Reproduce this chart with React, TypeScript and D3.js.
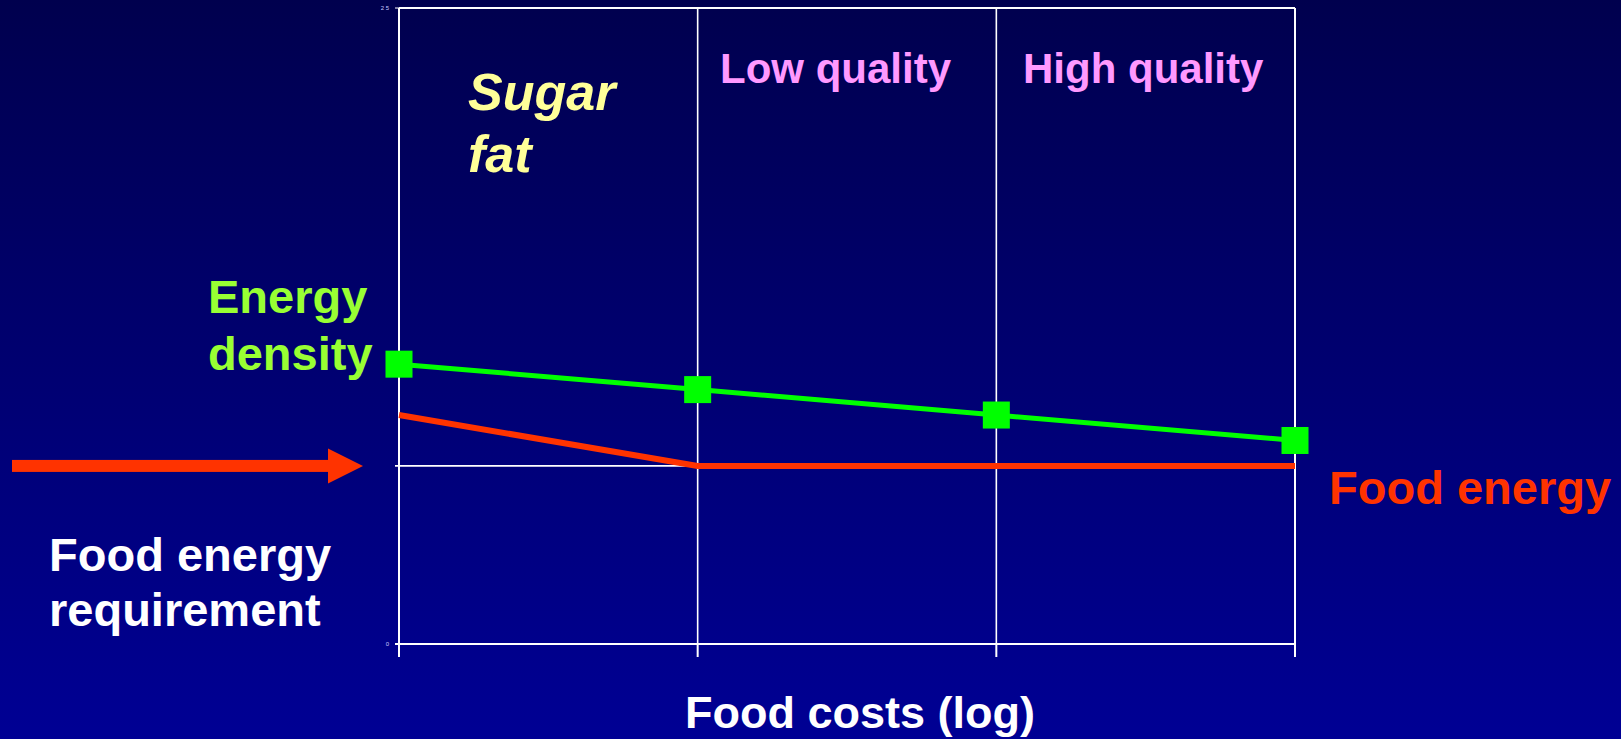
import React from "react";
import * as d3 from "d3";

const categories = ["c1", "c2", "c3", "c4"];
const energyDensity = [11, 10, 9, 8];
const foodEnergy = [9, 7, 7, 7];
const requirementLevel = 7;
const yTicks = [0, 25];
const bandLabels = [
  { text: "Low quality", x: 720 },
  { text: "High quality", x: 1023 },
];

const W = 1621;
const H = 739;
const FONT = "'Liberation Sans', Arial, Helvetica, sans-serif";

export default function App() {
  const x = d3.scalePoint<string>().domain(categories).range([399, 1295]);
  const y = d3.scaleLinear().domain([0, 25]).range([644, 8]);

  const lineGen = d3
    .line<number>()
    .x((_, i) => x(categories[i]) as number)
    .y((d) => y(d));

  const x0 = x(categories[0]) as number;
  const x3 = x(categories[categories.length - 1]) as number;
  const reqY = y(requirementLevel);
  const marker = 27;

  return (
    <svg
      width={W}
      height={H}
      style={{ position: "absolute", left: 0, top: 0, display: "block" }}
      fontFamily={FONT}
    >
      <defs>
        <linearGradient id="bg" x1="0" y1="0" x2="0" y2="1">
          <stop offset="0" stopColor="#00004e" />
          <stop offset="1" stopColor="#000094" />
        </linearGradient>
      </defs>
      <rect x={0} y={0} width={W} height={H} fill="url(#bg)" />

      {/* vertical gridlines */}
      {categories.slice(1, -1).map((c) => (
        <line key={c} x1={x(c)} x2={x(c)} y1={y(25)} y2={y(0)} stroke="#fff" strokeWidth={1.6} />
      ))}
      {/* horizontal requirement gridline */}
      <line x1={x0 - 4} x2={x3} y1={reqY} y2={reqY} stroke="#fff" strokeWidth={1.6} />

      {/* frame */}
      <line x1={x0} x2={x3} y1={y(25)} y2={y(25)} stroke="#fff" strokeWidth={2} />
      <line x1={x3} x2={x3} y1={y(25)} y2={y(0)} stroke="#fff" strokeWidth={2} />
      <line x1={x0} x2={x0} y1={y(25)} y2={y(0) + 13} stroke="#fff" strokeWidth={2} />
      <line x1={x0 - 4} x2={x3} y1={y(0)} y2={y(0)} stroke="#fff" strokeWidth={2.2} />
      {categories.map((c) => (
        <line key={c} x1={x(c)} x2={x(c)} y1={y(0)} y2={y(0) + 13} stroke="#fff" strokeWidth={2} />
      ))}
      {yTicks.map((t) => (
        <g key={t}>
          <line x1={x0 - 4} x2={x0} y1={y(t)} y2={y(t)} stroke="#fff" strokeWidth={1} />
          <text x={x0 - 10} y={y(t) + 2} fontSize={6} fill="#c8c8ff" textAnchor="end">
            {t === 25 ? "2 5" : String(t)}
          </text>
        </g>
      ))}

      {/* food energy line */}
      <path d={lineGen(foodEnergy) || ""} fill="none" stroke="#ff3300" strokeWidth={6} />
      {/* energy density line */}
      <path d={lineGen(energyDensity) || ""} fill="none" stroke="#00ff00" strokeWidth={5} />
      {energyDensity.map((v, i) => (
        <rect
          key={i}
          x={(x(categories[i]) as number) - marker / 2}
          y={y(v) - marker / 2}
          width={marker}
          height={marker}
          fill="#00ff00"
        />
      ))}

      {/* arrow */}
      <rect x={12} y={reqY - 6} width={318} height={12} fill="#ff3300" />
      <path d={`M328,${reqY - 17.5} L363,${reqY} L328,${reqY + 17.5} Z`} fill="#ff3300" />

      {/* texts */}
      <text x={468} y={110} fontSize={52} fontWeight="bold" fontStyle="italic" fill="#ffff99">
        Sugar
      </text>
      <text x={468} y={172} fontSize={52} fontWeight="bold" fontStyle="italic" fill="#ffff99">
        fat
      </text>
      {bandLabels.map((b) => (
        <text key={b.text} x={b.x} y={83} fontSize={42} fontWeight="bold" fill="#ff99ff">
          {b.text}
        </text>
      ))}
      <text x={208} y={313} fontSize={47} fontWeight="bold" fill="#99ff33">
        Energy
      </text>
      <text x={208} y={370} fontSize={47} fontWeight="bold" fill="#99ff33">
        density
      </text>
      <text x={49} y={571} fontSize={47} fontWeight="bold" fill="#ffffff">
        Food energy
      </text>
      <text x={49} y={626} fontSize={47} fontWeight="bold" fill="#ffffff">
        requirement
      </text>
      <text x={1329} y={504} fontSize={47} fontWeight="bold" fill="#ff3300">
        Food energy
      </text>
      <text x={860} y={728} fontSize={45} fontWeight="bold" fill="#ffffff" textAnchor="middle">
        Food costs (log)
      </text>
    </svg>
  );
}
